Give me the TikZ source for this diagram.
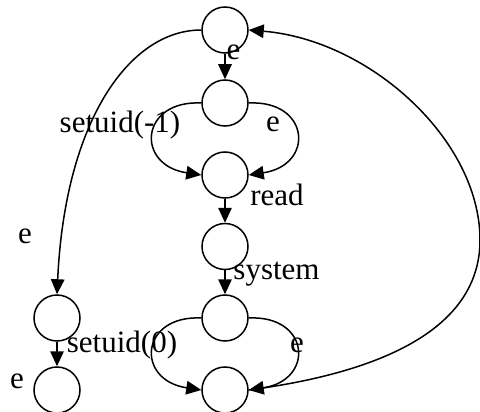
\documentclass[tikz,border=0pt]{standalone}
\usepackage{fontspec}
\setmainfont{Liberation Serif}
\usetikzlibrary{arrows.meta}
\tikzset{
  st/.style={draw, circle, minimum size=46pt, inner sep=0pt, line width=1.5pt},
  lbl/.style={inner sep=0pt, anchor=base, font=\fontsize{31}{31}\selectfont},
  edge/.style={line width=1.5pt, -{Triangle[length=15pt,width=13.5pt]}},
}
\begin{document}
\begin{tikzpicture}[x=1pt,y=-1pt]
\useasboundingbox (0,0) rectangle (480,412);
\node[st] (s1) at (225,30) {};
\node[st] (s2) at (225,103) {};
\node[st] (s3) at (225,175) {};
\node[st] (s4) at (225,246.5) {};
\node[st] (s5) at (225,318) {};
\node[st] (s6) at (225,390) {};
\node[st] (l1) at (57,318) {};
\node[st] (l2) at (57,390) {};
% straight edges
\draw[edge] (s1) -- (s2);
\draw[edge] (s3) -- (s4);
\draw[edge] (s4) -- (s5);
\draw[edge] (l1) -- (l2);
% split edges
\draw[edge] (s2.west) .. controls (140,100) and (135,165) .. (s3.west);
\draw[edge] (s2.east) .. controls (310,100) and (315,165) .. (s3.east);
\draw[edge] (s5.west) .. controls (140,315) and (135,380) .. (s6.west);
\draw[edge] (s5.east) .. controls (310,315) and (315,380) .. (s6.east);
% long edges
\draw[edge] (s1.west) .. controls (130,30) and (65,120) .. (l1.north);
\coordinate (rt) at (480,240);
\draw[edge] (s6.east) .. controls (400,370) and (480,320) .. (rt)
  .. controls (480,140) and (370,40) .. (s1.east);
% labels
\node[lbl] (t1) at (233.5,59.5) {e};
\node[lbl] (t2) at (120,132) {setuid(-1)};
\node[lbl] (t3) at (273,131.5) {e};
\node[lbl] (t4) at (277,205) {read};
\node[lbl] (t5) at (276.5,279) {system};
\node[lbl] (t6) at (122,352) {setuid(0)};
\node[lbl] (t7) at (297,352.5) {e};
\node[lbl] (t8) at (25,243) {e};
\node[lbl] (t9) at (17,388) {e};
\end{tikzpicture}
\end{document}
